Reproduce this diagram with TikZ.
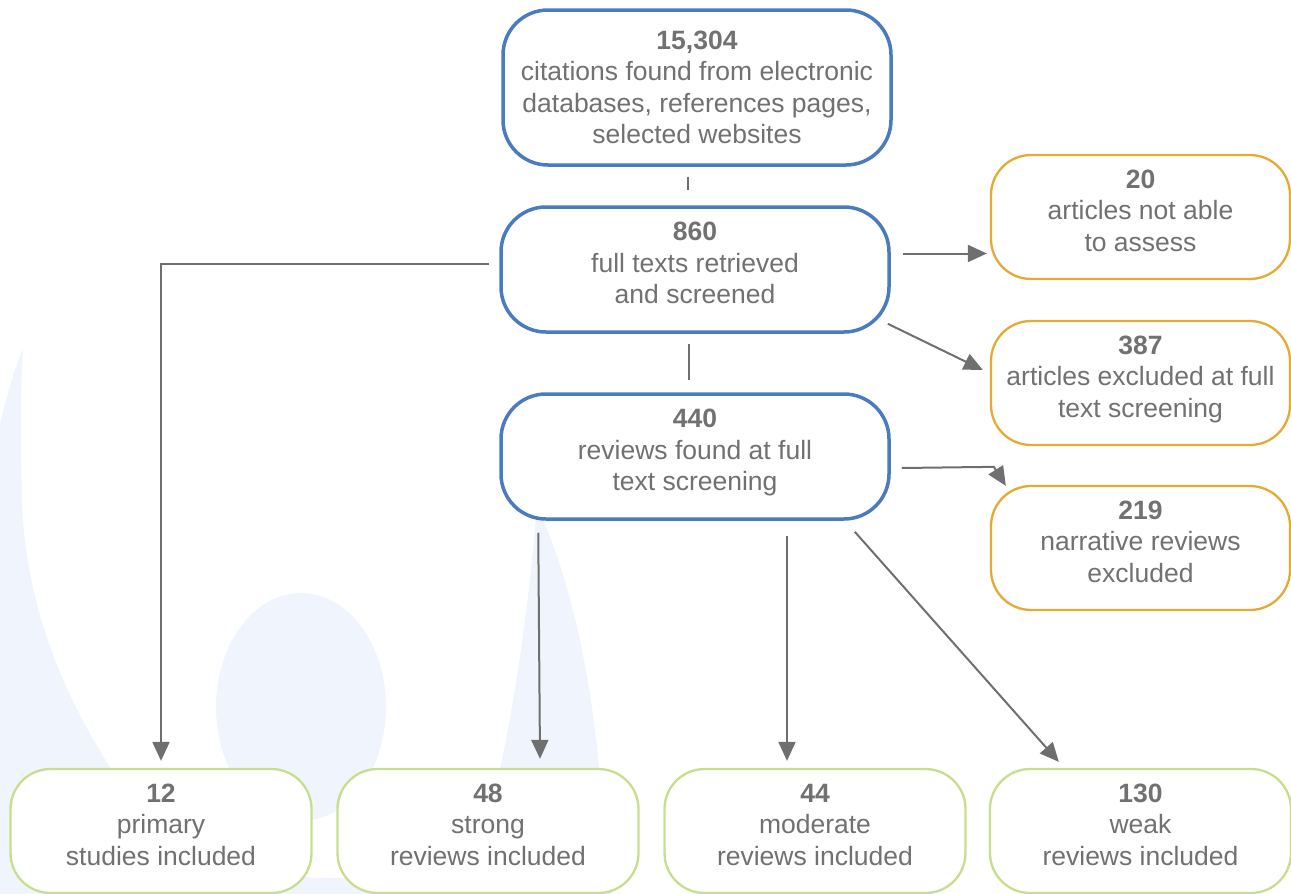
\documentclass[tikz,border=0pt]{standalone}
\usepackage{fontspec}
\setmainfont{Liberation Sans}
\usetikzlibrary{arrows.meta,calc}
\definecolor{bblue}{HTML}{4A7BC0}
\definecolor{borange}{HTML}{E6A934}
\definecolor{bgreen}{HTML}{C8DE8C}
\definecolor{lgray}{HTML}{6F6F6F}
\definecolor{txt}{HTML}{717171}
\definecolor{bglight}{HTML}{F0F5FD}
\newcommand\mydstrut{\rule[-13pt]{0pt}{13pt}}
\begin{document}
\begin{tikzpicture}[x=1pt,y=-1pt,
  box/.style={rectangle, fill=white, align=center, inner sep=0pt, text=txt,
    font=\fontsize{26.5}{31.5}\selectfont, minimum height=125pt},
  bluebox/.style={box, draw=bblue, line width=3.5pt, rounded corners=45pt, minimum width=388pt},
  orbox/.style={box, draw=borange, line width=2.3pt, rounded corners=40pt, minimum width=299pt, minimum height=124pt},
  grbox/.style={box, draw=bgreen, line width=2.3pt, rounded corners=40pt, minimum width=301pt, minimum height=124pt},
  conn/.style={draw=lgray, line width=2pt},
  arr/.style={conn, -{Triangle[length=19pt,width=17pt]}}
]
\useasboundingbox (0,0) rectangle (1291,894);
% background decoration
\begin{scope}
\clip (0,0) rectangle (1291,894);
\fill[bglight] (23,349) .. controls (8,380) and (-30,520) .. (-30,700) -- (-30,950) -- (620,950) -- (605,850)
  .. controls (598,700) and (575,590) .. (537,505)
  .. controls (528,620) and (510,730) .. (495,790)
  .. controls (460,860) and (400,878) .. (330,878)
  .. controls (220,878) and (140,820) .. (112,770)
  .. controls (60,690) and (25,600) .. (22,500)
  .. controls (20,420) and (21,380) .. (23,349) -- cycle;
\fill[bglight] (301,707) ellipse [x radius=85, y radius=114];
\end{scope}
% boxes
\node[bluebox, minimum height=155pt] (top) at (697,87.5) {\textbf{15,304}\\citations found from electronic\\databases, references pages,\\selected websites};
\node[bluebox] (n860) at (695,269.5) {\textbf{860}\\full texts retrieved\\and screened\mydstrut};
\node[bluebox] (n440) at (695,456.5) {\textbf{440}\\reviews found at full\\text screening\mydstrut};
\node[orbox] (o20) at (1140.5,217) {\textbf{20}\\articles not able\\to assess\mydstrut};
\node[orbox] (o387) at (1140.5,383) {\textbf{387}\\articles excluded at full\\text screening\mydstrut};
\node[orbox] (o219) at (1140.5,548) {\textbf{219}\\narrative reviews\\excluded\mydstrut};
\node[grbox] (g12) at (161,831) {\textbf{12}\\primary\\studies included\mydstrut};
\node[grbox] (g48) at (488,831) {\textbf{48}\\strong\\reviews included\mydstrut};
\node[grbox] (g44) at (815,831) {\textbf{44}\\moderate\\reviews included\mydstrut};
\node[grbox] (g130) at (1140.5,831) {\textbf{130}\\weak\\reviews included\mydstrut};
% connectors
\draw[conn] ($(top.south)+(-9,10)$) -- ($(n860.north)+(-7,-15)$);
\draw[conn] ($(n860.south)+(-6,10)$) -- ($(n440.north)+(-6,-12)$);
\coordinate (c12) at ($(n860.west)+(-10,-6)$);
\draw[arr] (c12) -| ($(g12.north)+(0,-7)$);
\coordinate (c20) at ($(n860.east)+(12,-16)$);
\draw[arr] (c20) -- ($(c20 -| o20.west)+(-3,0)$);
\draw[arr] ($(n860.south east)+(-3,-10)$) -- ($(o387.west)+(-7,-13)$);
\coordinate (e1) at ($(n440.east)+(11,11.5)$);
\coordinate (e2) at ($(o219.north west)+(4,-18)$);
\draw[arr] (e1) -- (e2) -- ($(o219.north west)+(16,1)$);
\draw[arr] ($(n440.south west)+(39,12)$) -- ($(g48.north)+(52,-9)$);
\draw[arr] ($(n440.south)+(92,15)$) -- ($(g44.north)+(-28,-7)$);
\draw[arr] ($(n440.south east)+(-36,11)$) -- ($(g130.north west)+(70,-6)$);
\end{tikzpicture}
\end{document}
